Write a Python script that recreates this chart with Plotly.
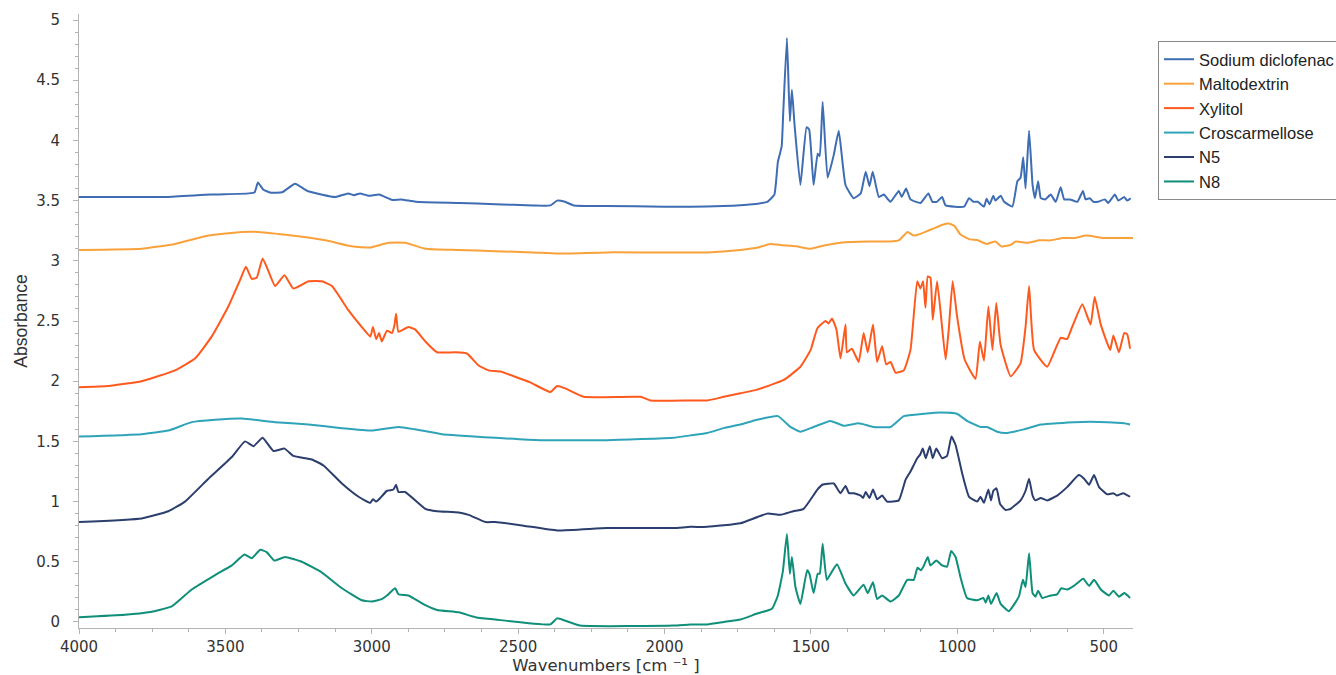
import plotly.graph_objects as go

# ---------------- data ----------------
series_names = ["Sodium diclofenac", "Maltodextrin", "Xylitol", "Croscarmellose", "N5", "N8"]

sd_wn = [4000, 3850, 3700, 3550, 3420, 3400, 3389, 3370, 3343, 3306, 3262, 3220, 3125, 3081, 3060, 3040,
         3010, 2975, 2930, 2900, 2850, 2700, 2578, 2450, 2390, 2367, 2340, 2310, 2200, 2000, 1912, 1800,
         1700, 1649, 1625, 1613, 1600, 1595, 1582, 1572, 1565, 1556, 1536, 1515, 1506, 1491, 1477, 1470,
         1460, 1443, 1422, 1405, 1382, 1354, 1330, 1313, 1300, 1289, 1268, 1251, 1240, 1228, 1200, 1190,
         1175, 1160, 1126, 1099, 1085, 1070, 1052, 1040, 977, 960, 945, 930, 909, 900, 890, 877, 870, 852,
         840, 812, 795, 784, 775, 767, 755, 743, 735, 724, 715, 700, 681, 664, 647, 635, 615, 590, 571,
         562, 548, 535, 520, 496, 485, 462, 450, 430, 420, 408]
sd_abs = [3.53, 3.53, 3.53, 3.55, 3.56, 3.57, 3.65, 3.59, 3.565, 3.57, 3.64, 3.58, 3.53, 3.56, 3.545, 3.56,
          3.54, 3.55, 3.505, 3.51, 3.49, 3.48, 3.47, 3.46, 3.46, 3.50, 3.49, 3.46, 3.455, 3.45, 3.45, 3.455,
          3.47, 3.49, 3.55, 3.82, 3.95, 4.21, 4.85, 4.16, 4.42, 4.13, 3.63, 4.11, 4.09, 3.63, 3.89, 3.87,
          4.32, 3.69, 3.88, 4.08, 3.63, 3.52, 3.56, 3.74, 3.62, 3.74, 3.53, 3.55, 3.52, 3.49, 3.58, 3.53,
          3.60, 3.51, 3.48, 3.56, 3.49, 3.49, 3.53, 3.46, 3.45, 3.52, 3.49, 3.49, 3.45, 3.515, 3.47, 3.54,
          3.50, 3.54, 3.49, 3.45, 3.66, 3.69, 3.86, 3.60, 4.08, 3.63, 3.52, 3.66, 3.52, 3.51, 3.55, 3.49,
          3.61, 3.51, 3.51, 3.49, 3.58, 3.51, 3.52, 3.49, 3.49, 3.51, 3.48, 3.55, 3.50, 3.53, 3.50, 3.52]

md_wn = [4000, 3786, 3672, 3558, 3444, 3388, 3273, 3159, 3068, 3005, 2943, 2886, 2817, 2705, 2578, 2450,
         2367, 2196, 1854, 1741, 1680, 1640, 1600, 1550, 1500, 1450, 1400, 1300, 1230, 1200, 1170, 1150,
         1130, 1100, 1080, 1050, 1030, 1010, 990, 960, 930, 900, 870, 850, 820, 800, 760, 720, 680, 640,
         600, 560, 500, 450, 400]
md_abs = [3.09, 3.10, 3.14, 3.21, 3.24, 3.24, 3.21, 3.17, 3.12, 3.11, 3.15, 3.15, 3.10, 3.09, 3.08, 3.07,
          3.06, 3.07, 3.07, 3.09, 3.11, 3.14, 3.13, 3.12, 3.10, 3.13, 3.15, 3.16, 3.16, 3.17, 3.24, 3.21,
          3.22, 3.25, 3.27, 3.30, 3.31, 3.29, 3.22, 3.18, 3.17, 3.14, 3.16, 3.12, 3.13, 3.16, 3.15, 3.17,
          3.17, 3.19, 3.19, 3.21, 3.19, 3.19, 3.19]

xy_wn = [4000, 3900, 3786, 3672, 3603, 3547, 3490, 3450, 3430, 3410, 3393, 3373, 3359, 3330, 3298, 3268,
         3216, 3170, 3136, 3080, 3034, 3005, 2996, 2985, 2975, 2966, 2948, 2931, 2923, 2917, 2909, 2875,
         2852, 2817, 2777, 2715, 2675, 2635, 2601, 2561, 2459, 2390, 2367, 2339, 2276, 2082, 2048, 1912,
         1854, 1798, 1741, 1684, 1593, 1536, 1501, 1478, 1450, 1440, 1428, 1413, 1399, 1382, 1377, 1360,
         1337, 1320, 1306, 1288, 1274, 1257, 1243, 1228, 1211, 1183, 1160, 1137, 1126, 1117, 1109, 1101,
         1092, 1084, 1069, 1040, 1029, 1016, 1001, 975, 938, 923, 909, 894, 880, 867, 852, 818, 784, 767,
         755, 738, 693, 647, 625, 608, 573, 545, 531, 510, 478, 467, 448, 430, 420, 410]
xy_abs = [1.95, 1.96, 2.00, 2.09, 2.19, 2.37, 2.62, 2.84, 2.95, 2.85, 2.86, 3.02, 2.95, 2.79, 2.88, 2.77,
          2.83, 2.83, 2.79, 2.59, 2.45, 2.37, 2.45, 2.35, 2.40, 2.33, 2.42, 2.40, 2.46, 2.56, 2.41, 2.45,
          2.43, 2.33, 2.24, 2.24, 2.23, 2.13, 2.09, 2.08, 1.99, 1.91, 1.96, 1.94, 1.87, 1.87, 1.84, 1.84,
          1.84, 1.87, 1.90, 1.93, 2.01, 2.12, 2.26, 2.44, 2.50, 2.48, 2.52, 2.43, 2.19, 2.47, 2.24, 2.27,
          2.16, 2.40, 2.24, 2.47, 2.16, 2.29, 2.14, 2.16, 2.07, 2.09, 2.26, 2.83, 2.77, 2.83, 2.61, 2.87,
          2.86, 2.51, 2.83, 2.18, 2.44, 2.83, 2.54, 2.18, 2.02, 2.33, 2.17, 2.62, 2.26, 2.65, 2.30, 2.04,
          2.15, 2.45, 2.79, 2.26, 2.12, 2.36, 2.35, 2.45, 2.64, 2.47, 2.70, 2.47, 2.26, 2.38, 2.24, 2.40,
          2.39, 2.27]

cc_wn = [4000, 3786, 3695, 3615, 3535, 3444, 3330, 3216, 3102, 3000, 2909, 2852, 2761, 2578, 2424, 2196,
         1969, 1912, 1854, 1798, 1741, 1684, 1613, 1570, 1536, 1501, 1433, 1388, 1337, 1286, 1228, 1183,
         1114, 1057, 1001, 967, 921, 898, 864, 830, 773, 715, 602, 488, 430, 410]
cc_abs = [1.54, 1.56, 1.59, 1.66, 1.68, 1.69, 1.66, 1.64, 1.61, 1.59, 1.62, 1.60, 1.56, 1.53, 1.51, 1.51,
          1.53, 1.55, 1.57, 1.61, 1.64, 1.68, 1.71, 1.62, 1.58, 1.61, 1.67, 1.63, 1.65, 1.62, 1.62, 1.71,
          1.73, 1.74, 1.73, 1.67, 1.62, 1.62, 1.58, 1.57, 1.60, 1.64, 1.66, 1.66, 1.65, 1.64]

n5_wn = [4000, 3786, 3695, 3638, 3558, 3478, 3433, 3404, 3373, 3336, 3298, 3268, 3205, 3165, 3102, 3045,
         3005, 2996, 2985, 2975, 2948, 2926, 2917, 2909, 2886, 2817, 2777, 2703, 2669, 2612, 2578, 2481,
         2367, 2196, 1969, 1912, 1854, 1741, 1649, 1604, 1560, 1525, 1478, 1461, 1422, 1399, 1382, 1370,
         1354, 1330, 1322, 1313, 1300, 1288, 1274, 1257, 1240, 1200, 1177, 1160, 1137, 1127, 1118, 1108,
         1094, 1084, 1072, 1052, 1035, 1020, 1006, 984, 960, 932, 921, 909, 894, 885, 877, 866, 854, 835,
         818, 784, 767, 755, 743, 733, 715, 693, 659, 625, 585, 567, 550, 533, 516, 488, 467, 455, 433, 410]
n5_abs = [0.83, 0.86, 0.92, 1.00, 1.19, 1.37, 1.50, 1.46, 1.53, 1.42, 1.44, 1.38, 1.35, 1.30, 1.15, 1.04,
          0.99, 1.02, 1.00, 1.02, 1.09, 1.10, 1.14, 1.08, 1.08, 0.94, 0.92, 0.91, 0.89, 0.83, 0.83, 0.80,
          0.76, 0.78, 0.78, 0.79, 0.79, 0.82, 0.90, 0.89, 0.92, 0.94, 1.10, 1.14, 1.15, 1.07, 1.13, 1.07,
          1.07, 1.05, 1.03, 1.08, 1.03, 1.10, 1.02, 1.05, 1.00, 1.01, 1.18, 1.25, 1.36, 1.39, 1.44, 1.36,
          1.46, 1.36, 1.44, 1.36, 1.38, 1.54, 1.47, 1.24, 1.04, 1.00, 1.04, 0.99, 1.10, 1.01, 1.09, 1.11,
          0.98, 0.93, 0.94, 1.01, 1.09, 1.19, 1.05, 1.01, 1.03, 1.01, 1.05, 1.12, 1.22, 1.19, 1.14, 1.22,
          1.12, 1.06, 1.07, 1.05, 1.07, 1.04]

n8_wn = [4000, 3843, 3763, 3683, 3615, 3535, 3478, 3435, 3410, 3381, 3359, 3333, 3296, 3239, 3170, 3102,
         3034, 3000, 2966, 2948, 2920, 2909, 2875, 2817, 2777, 2703, 2646, 2578, 2390, 2367, 2339, 2288,
         1969, 1912, 1854, 1798, 1741, 1684, 1633, 1613, 1596, 1582, 1572, 1565, 1553, 1536, 1513, 1505,
         1491, 1477, 1470, 1460, 1446, 1428, 1411, 1382, 1354, 1320, 1306, 1288, 1274, 1257, 1228, 1200,
         1171, 1149, 1136, 1125, 1114, 1101, 1092, 1072, 1052, 1035, 1021, 1006, 989, 967, 932, 911, 903,
         894, 885, 866, 852, 824, 790, 776, 767, 755, 743, 733, 724, 710, 681, 659, 645, 625, 602, 570,
         550, 533, 510, 482, 467, 448, 430, 410]
n8_abs = [0.04, 0.06, 0.08, 0.13, 0.27, 0.39, 0.47, 0.56, 0.53, 0.60, 0.58, 0.51, 0.54, 0.50, 0.41, 0.28,
          0.18, 0.17, 0.19, 0.22, 0.28, 0.23, 0.22, 0.14, 0.10, 0.08, 0.04, 0.02, -0.02, 0.03, 0.01, -0.03,
          -0.03, -0.02, -0.02, 0.00, 0.02, 0.07, 0.11, 0.22, 0.42, 0.73, 0.40, 0.54, 0.29, 0.15, 0.43, 0.40,
          0.24, 0.40, 0.40, 0.65, 0.35, 0.42, 0.48, 0.32, 0.22, 0.31, 0.24, 0.33, 0.19, 0.22, 0.17, 0.22,
          0.35, 0.35, 0.45, 0.43, 0.47, 0.54, 0.47, 0.51, 0.47, 0.46, 0.59, 0.54, 0.37, 0.20, 0.18, 0.20, 0.16,
          0.22, 0.15, 0.24, 0.15, 0.09, 0.21, 0.35, 0.29, 0.57, 0.24, 0.21, 0.26, 0.20, 0.22, 0.23, 0.28,
          0.27, 0.30, 0.36, 0.30, 0.35, 0.27, 0.22, 0.26, 0.21, 0.24, 0.20]

x_ticks = [4000, 3500, 3000, 2500, 2000, 1500, 1000, 500]
y_ticks = [0, 0.5, 1, 1.5, 2, 2.5, 3, 3.5, 4, 4.5, 5]

# ---------------- styles ----------------
colors = ["#3E6DB3", "#F9A23C", "#FF5A1E", "#2FA4B9", "#2B3E6E", "#0F8E79"]
data = [(sd_wn, sd_abs), (md_wn, md_abs), (xy_wn, xy_abs), (cc_wn, cc_abs), (n5_wn, n5_abs), (n8_wn, n8_abs)]

fig = go.Figure()
for name, (wn, ab), col in zip(series_names, data, colors):
    fig.add_trace(go.Scatter(x=wn, y=ab, mode="lines", name=name,
                             line=dict(color=col, width=2, shape="spline", smoothing=0.4)))

axis_col = "#b4b4b4"
tick_font = dict(family="DejaVu Sans, Verdana, sans-serif", size=15, color="#333333")

fig.update_layout(
    width=1336, height=675,
    margin=dict(l=79, r=203, t=14, b=47, autoexpand=False),
    paper_bgcolor="white", plot_bgcolor="white",
    showlegend=True,
    legend=dict(x=(1158 - 79) / 1054, y=(628 - 41) / 614, xanchor="left", yanchor="top",
                bgcolor="white", bordercolor="#8a8a8a", borderwidth=1,
                font=dict(family="Liberation Sans, Arial, sans-serif", size=16.5, color="#222222"),
                itemwidth=30, tracegroupgap=0),
)

fig.update_xaxes(
    range=[4000, 400], tickvals=x_ticks, showgrid=False, zeroline=False,
    showline=True, linecolor=axis_col, linewidth=1,
    ticks="outside", ticklen=5, tickcolor=axis_col,
    minor=dict(ticks="outside", ticklen=3, dtick=125, tick0=0, tickcolor=axis_col, showgrid=False),
    tickfont=tick_font,
    title=dict(text="Wavenumbers [cm \u207b\u00b9 ]",
               font=dict(family="DejaVu Sans, Verdana, sans-serif", size=16.5, color="#333333")),
)
fig.update_yaxes(
    range=[-0.05, 5.05], tickvals=y_ticks, showgrid=False, zeroline=False,
    showline=True, linecolor=axis_col, linewidth=1,
    ticks="outside", ticklen=5, tickcolor=axis_col,
    minor=dict(ticks="outside", ticklen=3, dtick=0.1, tick0=0, tickcolor=axis_col, showgrid=False),
    tickfont=tick_font, ticklabelstandoff=10,
    title=dict(text="Absorbance", standoff=4,
               font=dict(family="Liberation Sans, Arial, sans-serif", size=17.5, color="#333333")),
)

fig.write_html("out.html")
